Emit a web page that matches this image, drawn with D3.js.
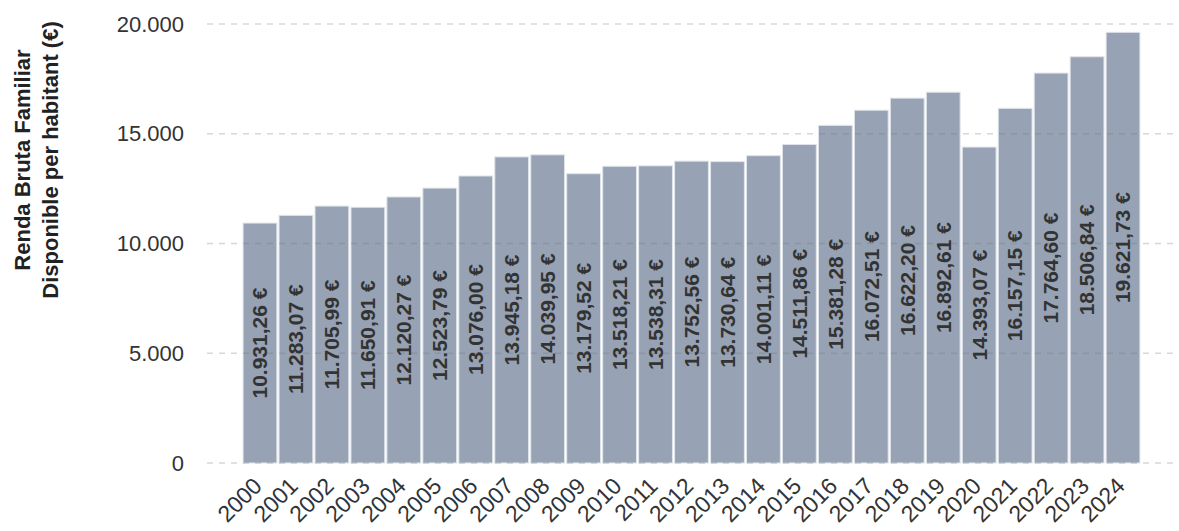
<!DOCTYPE html>
<html><head><meta charset="utf-8">
<script src="https://cdn.jsdelivr.net/npm/d3@7"></script>
<style>body{margin:0;background:#fff}svg{display:block}text{font-family:"Liberation Sans",Arial,sans-serif}</style>
</head><body><svg id="c" width="1179" height="531"></svg>
<script>
const years = ["2000","2001","2002","2003","2004","2005","2006","2007","2008","2009","2010","2011","2012","2013","2014","2015","2016","2017","2018","2019","2020","2021","2022","2023","2024"];
const values = [10931.26,11283.07,11705.99,11650.91,12120.27,12523.79,13076.00,13945.18,14039.95,13179.52,13518.21,13538.31,13752.56,13730.64,14001.11,14511.86,15381.28,16072.51,16622.20,16892.61,14393.07,16157.15,17764.60,18506.84,19621.73];
const yTicks = [0,5000,10000,15000,20000];
const titleLines = ["Renda Bruta Familiar","Disponible per habitant (€)"];

const loc = d3.formatLocale({decimal:",",thousands:".",grouping:[3],currency:[""," €"]});
const fTick = loc.format(",.0f");
const fVal = v => loc.format(",.2f")(v) + " €";

const svg = d3.select("#c");
const x = d3.scaleBand().domain(years).range([242,1141]).paddingInner(0.06).paddingOuter(0.03);
const y = d3.scaleLinear().domain([0,20000]).range([463,24]);

// bars
svg.append("g").selectAll("rect").data(values).join("rect")
  .attr("x",(d,i)=>x(years[i])).attr("width",x.bandwidth())
  .attr("y",d=>y(d)).attr("height",d=>y(0)-y(d))
  .attr("fill","#97a3b4").attr("stroke","#dfe4ea").attr("stroke-width",1);

// grid on top
svg.append("g").selectAll("line").data(yTicks).join("line")
  .attr("x1",207).attr("x2",1179).attr("y1",d=>y(d)).attr("y2",d=>y(d))
  .attr("stroke","rgba(110,110,110,0.28)").attr("stroke-width",1.5).attr("stroke-dasharray","6,6");

// y tick labels
svg.append("g").selectAll("text").data(yTicks).join("text")
  .attr("x",184).attr("y",d=>y(d)).attr("dy","0.35em").attr("text-anchor","end")
  .attr("font-size",22).attr("fill","#333").text(d=>fTick(d));

// value labels
svg.append("g").selectAll("text").data(values).join("text")
  .attr("transform",(d,i)=>`translate(${x(years[i])+x.bandwidth()/2},${(y(d)+y(0))/2}) rotate(-90)`)
  .attr("text-anchor","middle").attr("dy","0.35em")
  .attr("font-size",21).attr("font-weight","bold").attr("fill","#333").text(d=>fVal(d));

// x labels
svg.append("g").selectAll("text").data(years).join("text")
  .attr("transform",d=>`translate(${x(d)+x.bandwidth()/2-8},${476}) rotate(-45)`)
  .attr("text-anchor","end").attr("dy","0.7em")
  .attr("font-size",23).attr("fill","#333").text(d=>d);

// y title
const t = svg.append("text").attr("transform","translate(22,160) rotate(-90)")
  .attr("text-anchor","middle").attr("font-size",22).attr("font-weight","bold").attr("fill","#222");
titleLines.forEach((l,i)=>t.append("tspan").attr("x",0).attr("dy",i===0?"0.35em":"1.27em").text(l));
</script></body></html>
